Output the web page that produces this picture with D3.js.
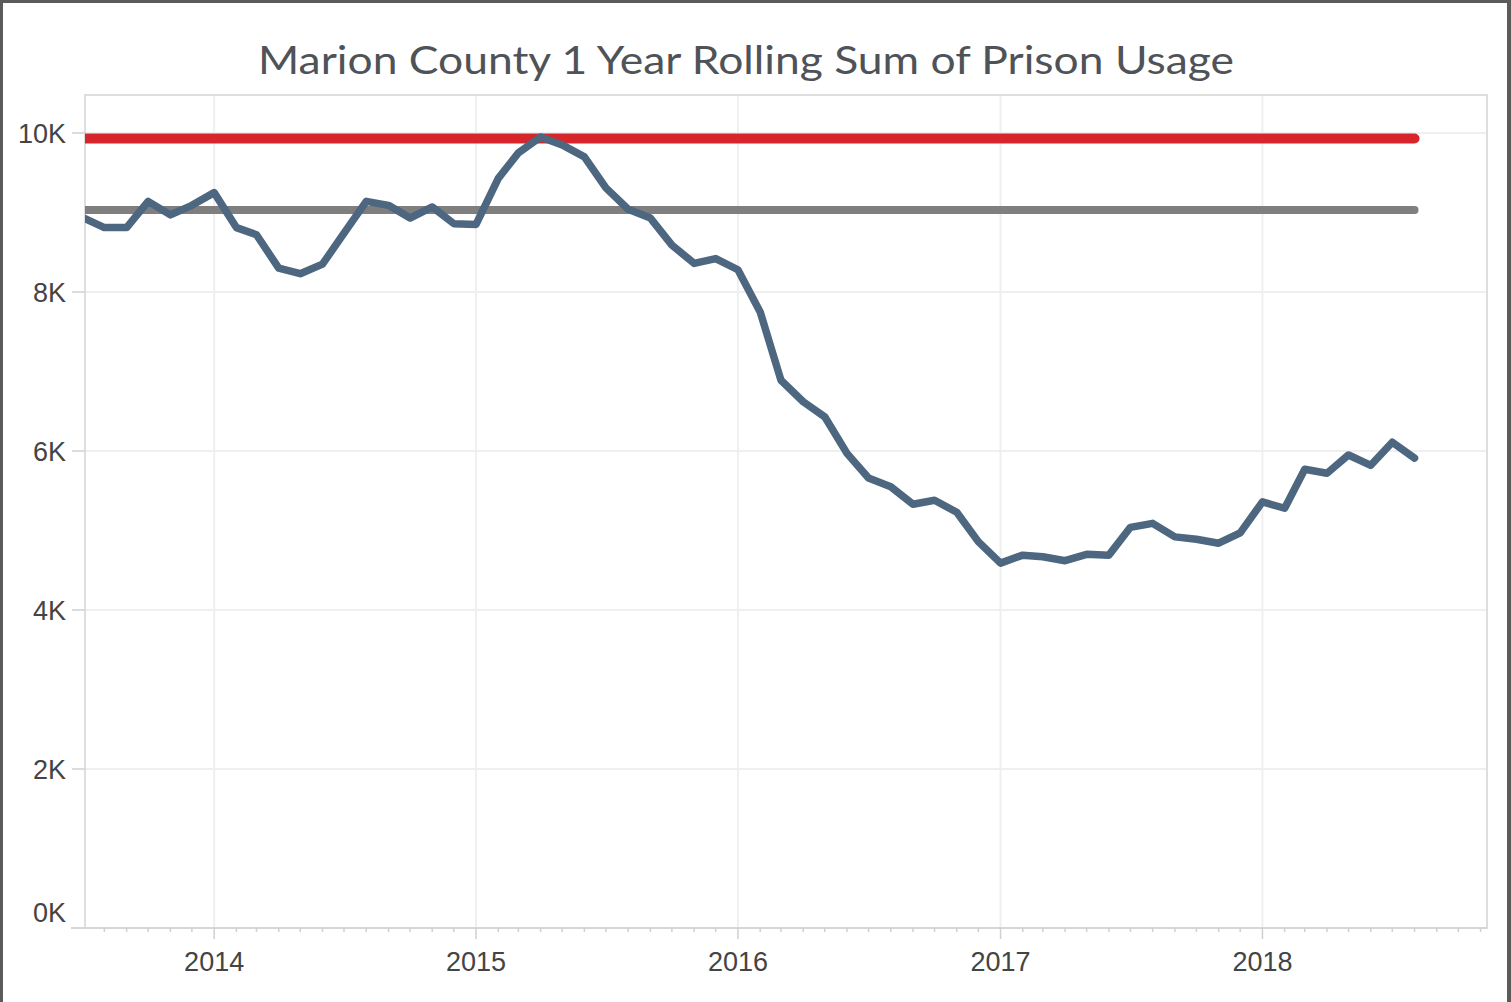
<!DOCTYPE html>
<meta charset="utf-8">
<script src="https://d3js.org/d3.v7.min.js"></script>
<style>
body { margin: 0; background: #fff; }
svg text { font-family: "Liberation Sans", Arial, sans-serif; }
</style>
<div id="chart"></div>
<script>
// monthly points, rolling 12 month sum
var months = ["2013-07","2013-08","2013-09","2013-10","2013-11","2013-12",
  "2014-01","2014-02","2014-03","2014-04","2014-05","2014-06","2014-07","2014-08","2014-09","2014-10","2014-11","2014-12",
  "2015-01","2015-02","2015-03","2015-04","2015-05","2015-06","2015-07","2015-08","2015-09","2015-10","2015-11","2015-12",
  "2016-01","2016-02","2016-03","2016-04","2016-05","2016-06","2016-07","2016-08","2016-09","2016-10","2016-11","2016-12",
  "2017-01","2017-02","2017-03","2017-04","2017-05","2017-06","2017-07","2017-08","2017-09","2017-10","2017-11","2017-12",
  "2018-01","2018-02","2018-03","2018-04","2018-05","2018-06","2018-07","2018-08"];
var usage = [8940,8810,8810,9140,8970,9090,
  9250,8810,8720,8300,8230,8350,8740,9140,9090,8930,9070,8860,
  8850,9430,9750,9950,9850,9700,9310,9040,8930,8590,8360,8420,
  8280,7750,6890,6620,6430,5970,5660,5550,5330,5380,5230,4860,
  4590,4690,4670,4620,4700,4690,5040,5090,4920,4890,4840,4970,
  5360,5280,5770,5720,5950,5820,6110,5910];
var redLine = 9930;   // upper reference
var grayLine = 9030;  // lower reference
var yTicks = [0, 2000, 4000, 6000, 8000, 10000];
var title = "Marion County 1 Year Rolling Sum of Prison Usage";

var W = 1511, H = 1002;
var margin = {top: 95, right: 24, bottom: 74, left: 85},
    width = W - margin.left - margin.right,
    height = H - margin.top - margin.bottom;

var parse = d3.utcParse("%Y-%m");
var data = months.map(function(m, i) { return {date: parse(m), value: usage[i]}; });

var svg = d3.select("#chart").append("svg")
  .attr("width", W).attr("height", H);

// dark outer frame
svg.append("rect").attr("width", W).attr("height", H).attr("fill", "#5b5b5b");
svg.append("rect").attr("x", 3).attr("y", 3).attr("width", 1504).attr("height", H).attr("fill", "#fff");

svg.append("text")
  .attr("x", 746).attr("y", 74)
  .attr("text-anchor", "middle")
  .attr("textLength", 976).attr("lengthAdjust", "spacingAndGlyphs")
  .style("font-family", "Lato, 'Open Sans', sans-serif")
  .style("font-size", "39px")
  .attr("fill", "#4f5357")
  .text(title);

var g = svg.append("g").attr("transform", "translate(" + margin.left + "," + margin.top + ")");

var x = d3.scaleUtc()
  .domain([new Date(Date.UTC(2013, 6, 5)), new Date(Date.UTC(2018, 10, 10))])
  .range([0, width]);
var y = d3.scaleLinear().domain([0, 10478]).range([height, 0]);

var years = x.ticks(d3.utcYear.every(1));
var monthTicks = x.ticks(d3.utcMonth.every(1));

// grid
g.append("g").selectAll("line").data(yTicks.slice(1)).enter().append("line")
  .attr("x1", 0).attr("x2", width)
  .attr("y1", function(d) { return y(d); }).attr("y2", function(d) { return y(d); })
  .attr("stroke", "#efefef").attr("stroke-width", 2);
g.append("g").selectAll("line").data(years).enter().append("line")
  .attr("x1", function(d) { return x(d); }).attr("x2", function(d) { return x(d); })
  .attr("y1", 0).attr("y2", height)
  .attr("stroke", "#efefef").attr("stroke-width", 2);

// plot frame
g.append("rect").attr("width", width).attr("height", height)
  .attr("fill", "none").attr("stroke", "#dedede").attr("stroke-width", 2);

// y axis ticks + labels
g.append("g").selectAll("line").data(yTicks).enter().append("line")
  .attr("x1", -13).attr("x2", 0)
  .attr("y1", function(d) { return y(d); }).attr("y2", function(d) { return y(d); })
  .attr("stroke", "#d0d0d0").attr("stroke-width", 1.5);
g.append("g").selectAll("text").data(yTicks).enter().append("text")
  .attr("x", -19)
  .attr("y", function(d) { return d === 0 ? y(d) - 16 : y(d); })
  .attr("dy", "0.36em")
  .attr("text-anchor", "end")
  .style("font-size", "27px")
  .attr("fill", "#444")
  .text(function(d) { return (d / 1000) + "K"; });

// x axis
g.append("line").attr("x1", -14).attr("x2", width).attr("y1", height).attr("y2", height)
  .attr("stroke", "#d6d6d6").attr("stroke-width", 2);
g.append("g").selectAll("line").data(monthTicks).enter().append("line")
  .attr("x1", function(d) { return x(d); }).attr("x2", function(d) { return x(d); })
  .attr("y1", height).attr("y2", function(d) { return d.getUTCMonth() === 0 ? height + 11 : height + 4; })
  .attr("stroke", "#d0d0d0").attr("stroke-width", 1.5);
g.append("g").selectAll("text").data(years).enter().append("text")
  .attr("x", function(d) { return x(d); })
  .attr("y", height + 43)
  .attr("text-anchor", "middle")
  .style("font-size", "27px")
  .attr("fill", "#444")
  .text(function(d) { return d.getUTCFullYear(); });

// lines
g.append("clipPath").attr("id", "clip").append("rect")
  .attr("x", 0).attr("y", -20).attr("width", width).attr("height", height + 40);
var lines = g.append("g").attr("clip-path", "url(#clip)");

var line = d3.line().x(function(d) { return x(d.date); }).y(function(d) { return y(d.value); });

lines.append("path")
  .datum(data.map(function(d) { return {date: d.date, value: grayLine}; }))
  .attr("d", line).attr("fill", "none")
  .attr("stroke", "#7f7f7f").attr("stroke-width", 8).attr("stroke-linecap", "round");
lines.append("path")
  .datum(data.map(function(d) { return {date: d.date, value: redLine}; }))
  .attr("d", line).attr("fill", "none")
  .attr("stroke", "#d7262b").attr("stroke-width", 10).attr("stroke-linecap", "round");
lines.append("path")
  .datum(data)
  .attr("d", line).attr("fill", "none")
  .attr("stroke", "#4d6781").attr("stroke-width", 7.5)
  .attr("stroke-linejoin", "round").attr("stroke-linecap", "round");
</script>
